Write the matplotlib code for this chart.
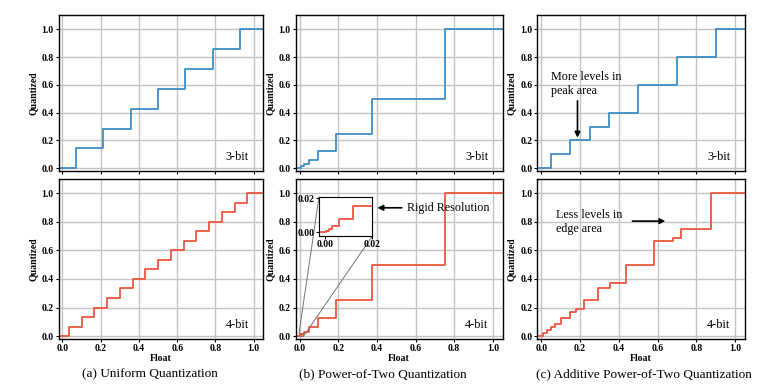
import matplotlib
matplotlib.use("Agg")
import matplotlib.pyplot as plt
from mpl_toolkits.axes_grid1.inset_locator import mark_inset

plt.rcParams["font.family"] = ["Liberation Serif", "DejaVu Serif"]

# quantization levels
uniform_3bit = [0.0, 0.1429, 0.2857, 0.4286, 0.5714, 0.7143, 0.8571, 1.0]
uniform_4bit = [0.0, 0.0667, 0.1333, 0.2, 0.2667, 0.3333, 0.4, 0.4667,
                0.5333, 0.6, 0.6667, 0.7333, 0.8, 0.8667, 0.9333, 1.0]
pot_3bit = [0.0, 0.015625, 0.03125, 0.0625, 0.125, 0.25, 0.5, 1.0]
pot_4bit = [0.0, 0.000061, 0.000122, 0.000244, 0.000488, 0.000977, 0.001953,
            0.003906, 0.007813, 0.015625, 0.03125, 0.0625, 0.125, 0.25, 0.5, 1.0]
apot_3bit = [0.0, 0.1, 0.2, 0.3, 0.4, 0.6, 0.8, 1.0]
apot_4bit = [0.0, 0.0208, 0.0417, 0.0625, 0.0833, 0.125, 0.1667, 0.1875,
             0.25, 0.3333, 0.375, 0.5, 0.6667, 0.6875, 0.75, 1.0]

captions = ["(a) Uniform Quantization", "(b) Power-of-Two Quantization",
            "(c) Additive Power-of-Two Quantization"]

BLUE = "#3d8dc4"
RED = "#ec5640"


def draw_levels(ax, levels, color, x_start=-0.05, x_end=1.2):
    # nearest-level rounding: switch at the midpoint between two levels
    xs = [x_start] + [(a + b) / 2 for a, b in zip(levels[:-1], levels[1:])] + [x_end]
    ys = list(levels) + [levels[-1]]
    ax.step(xs, ys, where="post", color=color, lw=1.3)


def style(ax, bottom):
    ax.set_xlim(-0.02, 1.05)
    ax.set_ylim(-0.02, 1.1)
    ax.set_xticks([0.0, 0.2, 0.4, 0.6, 0.8, 1.0])
    ax.set_yticks([0.0, 0.2, 0.4, 0.6, 0.8, 1.0])
    ax.grid(True, color="#c4c4c4", lw=1.0)
    ax.set_axisbelow(True)
    ax.tick_params(labelsize=7, length=2, pad=1.5)
    for lab in ax.get_xticklabels() + ax.get_yticklabels():
        lab.set_fontweight("bold")
    ax.set_ylabel("Quantized", fontsize=7, fontweight="bold", labelpad=3)
    if bottom:
        ax.set_xlabel("Float", fontsize=7, fontweight="bold", labelpad=1)
    else:
        ax.tick_params(labelbottom=False)
    for s in ax.spines.values():
        s.set_linewidth(1.0)


fig = plt.figure(figsize=(7.72, 3.9), dpi=100)

col_x = [(0.076, 0.265), (0.383, 0.268), (0.696, 0.269)]
top_row = (0.5615, 0.399)
bot_row = (0.131, 0.41)

top_data = [uniform_3bit, pot_3bit, apot_3bit]
bot_data = [uniform_4bit, pot_4bit, apot_4bit]

axes_top, axes_bot = [], []
for i, (x0, w) in enumerate(col_x):
    at = fig.add_axes([x0, top_row[0], w, top_row[1]])
    draw_levels(at, top_data[i], BLUE)
    style(at, False)
    at.text(0.93, 0.05, "3-bit", transform=at.transAxes, ha="right", va="bottom", fontsize=8.8)
    axes_top.append(at)

    ab = fig.add_axes([x0, bot_row[0], w, bot_row[1]])
    draw_levels(ab, bot_data[i], RED)
    style(ab, True)
    ab.text(0.93, 0.05, "4-bit", transform=ab.transAxes, ha="right", va="bottom", fontsize=8.8)
    axes_bot.append(ab)

# caption under each column
cap_x = [0.194, 0.496, 0.834]
for cx, cap in zip(cap_x, captions):
    fig.text(cx, 0.04, cap, ha="center", va="center", fontsize=9.5)

# inset for power-of-two 4-bit near the origin
ax_b = axes_bot[1]
axins = ax_b.inset_axes([0.113, 0.644, 0.258, 0.246])
draw_levels(axins, pot_4bit, RED)
axins.set_xlim(-0.0026, 0.0202)
axins.set_ylim(-0.0022, 0.0209)
axins.set_xticks([0.0, 0.02])
axins.set_yticks([0.0, 0.02])
axins.set_xticklabels(["0.00", "0.02"])
axins.set_yticklabels(["0.00", "0.02"])
axins.tick_params(labelsize=7, length=2, pad=1)
for lab in axins.get_xticklabels() + axins.get_yticklabels():
    lab.set_fontweight("bold")
mark_inset(ax_b, axins, loc1=2, loc2=4, fc="none", ec="0.45", lw=0.7)

ax_b.annotate("Rigid Resolution", xy=(0.395, 0.82), xycoords="axes fraction",
              xytext=(0.54, 0.82), textcoords="axes fraction",
              fontsize=8.7, va="center", ha="left",
              arrowprops=dict(arrowstyle="-|>", color="black", lw=1.2,
                              mutation_scale=8, shrinkB=0))

ax_c3 = axes_top[2]
ax_c3.text(0.05, 0.70, "More levels in\npeak area", fontsize=8.7, va="top", ha="left",
           linespacing=1.2)
ax_c3.annotate("", xy=(0.187, 0.22), xytext=(0.187, 0.485),
               arrowprops=dict(arrowstyle="-|>", color="black", lw=1.2,
                               mutation_scale=8, shrinkA=0, shrinkB=0))

ax_c4 = axes_bot[2]
ax_c4.text(0.075, 0.80, "Less levels in\nedge area", fontsize=8.7, va="center", ha="left",
           linespacing=1.2)
ax_c4.annotate("", xy=(0.64, 0.805), xytext=(0.47, 0.805),
               arrowprops=dict(arrowstyle="-|>", color="black", lw=1.2,
                               mutation_scale=8, shrinkA=0, shrinkB=0))

fig.savefig("out.png", dpi=100)
